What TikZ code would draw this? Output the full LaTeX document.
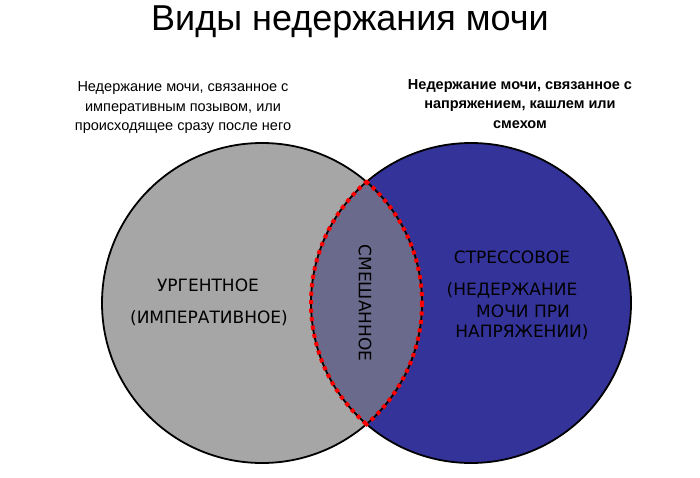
\documentclass[tikz,border=0pt]{standalone}
\usepackage{fontspec}
\setmainfont{Liberation Sans}
\newfontfamily\dejavu{DejaVu Sans}
\definecolor{cgrey}{HTML}{A6A6A6}
\definecolor{cblue}{HTML}{333399}
\definecolor{clens}{HTML}{6A6A8C}
\definecolor{cred}{HTML}{FF0000}
\begin{document}
\begin{tikzpicture}[x=1pt,y=-1pt,
  lbl/.style={font=\dejavu\fontsize{17}{21}\selectfont,align=center,inner sep=0},
  captxt/.style={font=\fontsize{14.5}{19.5}\selectfont,align=center,inner sep=0}]
\useasboundingbox (0,0) rectangle (700,478);
\fill[cgrey] (262,303) circle (160);
\fill[cblue] (471,303) circle (160);
\begin{scope}
\clip (262,303) circle (160);
\fill[clens] (471,303) circle (160);
\end{scope}
\draw[line width=1.8pt] (262,303) circle (160);
\draw[line width=1.8pt] (471,303) circle (160);
\begin{scope}
\clip (262,303) circle (162);
\draw[cred,line width=4pt,dash pattern=on 4pt off 4.5pt] (471,303) circle (160);
\end{scope}
\begin{scope}
\clip (471,303) circle (162);
\draw[cred,line width=4pt,dash pattern=on 4pt off 4.5pt] (262,303) circle (160);
\end{scope}
\node (title) at (350,22) {\fontsize{36}{40}\selectfont Виды недержания мочи};
\node[captxt] (capl) at (183,108) {Недержание мочи, связанное с\\императивным позывом, или\\происходящее сразу после него};
\node[captxt,font=\bfseries\fontsize{14.5}{19.5}\selectfont] (capr) at (520,104) {Недержание мочи, связанное с\\напряжением, кашлем или\\смехом};
\node[lbl] (urg) at (208,285) {УРГЕНТНОЕ};
\node[lbl] (imp) at (209,318) {(ИМПЕРАТИВНОЕ)};
\node[lbl,rotate=-90] (mix) at (365,303) {СМЕШАННОЕ};
\node[lbl] (str) at (512,257) {СТРЕССОВОЕ};
\node[lbl] (ned) at (512,290) {(НЕДЕРЖАНИЕ};
\node[lbl] (moch) at (523,311) {МОЧИ ПРИ};
\node[lbl] (nap) at (522,332) {НАПРЯЖЕНИИ)};
\end{tikzpicture}
\end{document}
